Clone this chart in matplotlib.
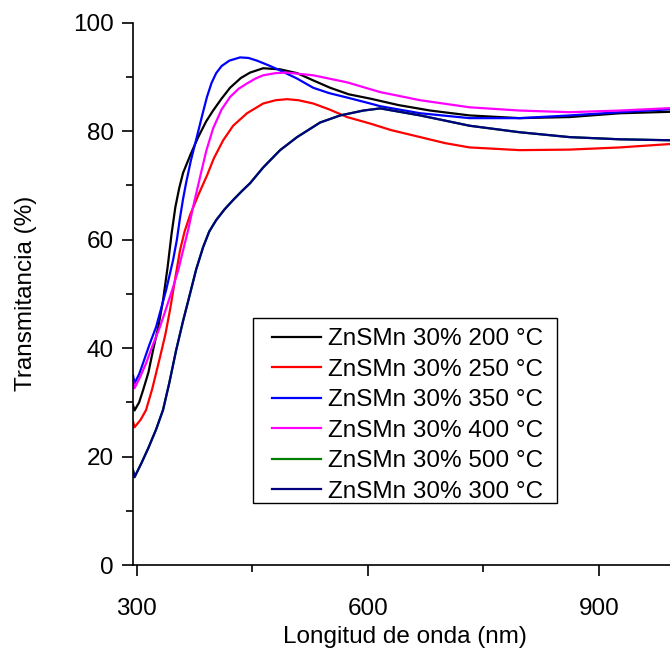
import matplotlib
matplotlib.use("Agg")
import matplotlib.pyplot as plt
from matplotlib.patches import Rectangle
from matplotlib.ticker import MultipleLocator

plt.rcParams['font.family'] = ['Liberation Sans', 'DejaVu Sans']

# Data (wavelength nm, transmittance %)
wl_200 = [295, 297, 303, 308, 315, 321, 328, 334, 340, 345, 350, 355, 360, 370, 380, 390, 399,
          410, 421, 435, 447, 464, 486, 508, 530, 551, 575, 603, 640, 681, 732, 797, 862, 927, 1000]
t_200 = [29.5, 28.5, 30, 32.2, 35.5, 39.6, 44, 48.8, 55, 61, 66, 69.5, 72.3, 75.8, 79, 81.8, 83.8,
         86, 88, 89.8, 90.8, 91.6, 91.4, 90.7, 89.3, 88, 86.8, 86, 84.8, 83.8, 82.9, 82.4, 82.6, 83.3, 83.6]

wl_250 = [295, 297, 305, 312, 320, 330, 337, 343, 350, 356, 362, 369, 380, 391, 400, 412, 425,
          443, 464, 480, 495, 510, 529, 550, 573, 603, 630, 668, 700, 732, 797, 862, 927, 1000]
t_250 = [26.5, 25.4, 26.8, 28.6, 32.5, 38.3, 42.5, 47, 53, 58, 61.5, 64.5, 68.3, 71.8, 75, 78.3, 81,
         83.3, 85.1, 85.7, 85.9, 85.7, 85.1, 84, 82.6, 81.4, 80.2, 78.9, 77.8, 77, 76.5, 76.6, 77, 77.7]

wl_350 = [295, 297, 303, 308, 316, 325, 338, 347, 352, 356, 360, 364, 370, 378, 385, 391, 397,
          403, 410, 420, 434, 445, 456, 470, 486, 508, 529, 550, 573, 603, 616, 668, 732, 797,
          862, 927, 1000]
t_350 = [35, 33.5, 35.2, 37.2, 40.5, 43.9, 50.7, 56.2, 60, 64, 67.5, 70.5, 74.5, 79, 83, 86.3, 88.9,
         90.7, 92, 93, 93.6, 93.5, 93, 92.2, 91.2, 89.7, 88, 87, 86.2, 85.1, 84.6, 83.3, 82.4, 82.4,
         82.9, 83.5, 84.1]

wl_400 = [295, 297, 304, 312, 320, 330, 338, 347, 354, 360, 367, 373, 382, 390, 399, 410, 421,
          432, 443, 454, 464, 480, 495, 529, 573, 616, 668, 732, 797, 862, 927, 1000]
t_400 = [34, 32.6, 34.6, 37.2, 40.3, 43.9, 47.3, 51.2, 54.5, 58, 62, 66, 71.5, 76.3, 80.5, 84, 86.3,
         87.8, 88.8, 89.7, 90.3, 90.7, 90.8, 90.3, 89, 87.2, 85.7, 84.4, 83.8, 83.5, 83.8, 84.3]

# 500 °C curve lies hidden under the 300 °C one in the reference
wl_500 = [295, 297, 306, 315, 325, 334, 342, 351, 360, 369, 377, 386, 394, 403, 414, 425, 436,
          447, 464, 486, 508, 538, 564, 594, 616, 668, 732, 797, 862, 927, 1000]
t_500 = [17.5, 16.2, 18.8, 21.6, 25, 28.6, 33.5, 39.6, 45, 50, 54.5, 58.6, 61.5, 63.6, 65.6, 67.3,
         68.9, 70.4, 73.3, 76.5, 78.9, 81.6, 82.9, 83.8, 84.2, 82.9, 81, 79.8, 78.9, 78.5, 78.3]

wl_300 = [295, 297, 306, 315, 325, 334, 342, 351, 360, 369, 377, 386, 394, 403, 414, 425, 436,
          447, 464, 486, 508, 538, 564, 594, 616, 668, 732, 797, 862, 927, 1000]
t_300 = [17.5, 16.2, 18.8, 21.6, 25, 28.6, 33.5, 39.6, 45, 50, 54.5, 58.6, 61.5, 63.6, 65.6, 67.3,
         68.9, 70.4, 73.3, 76.5, 78.9, 81.6, 82.9, 83.8, 84.2, 82.9, 81, 79.8, 78.9, 78.5, 78.3]

series = [
    ("ZnSMn 30% 200 °C", wl_200, t_200, "black"),
    ("ZnSMn 30% 250 °C", wl_250, t_250, "#ff0000"),
    ("ZnSMn 30% 350 °C", wl_350, t_350, "#0000ff"),
    ("ZnSMn 30% 400 °C", wl_400, t_400, "#ff00ff"),
    ("ZnSMn 30% 500 °C", wl_500, t_500, "#008000"),
    ("ZnSMn 30% 300 °C", wl_300, t_300, "#000080"),
]

W, H = 670, 648
fig = plt.figure(figsize=(W / 100, H / 100), dpi=100)
ax = fig.add_axes([133 / W, 83 / H, 543 / W, 542.3 / H])

for label, x, y, c in series:
    ax.plot(x, y, color=c, lw=1.6, label=label)

ax.set_xlim(295, 1000)
ax.set_ylim(0, 100)
ax.xaxis.set_major_locator(MultipleLocator(300))
ax.xaxis.set_minor_locator(MultipleLocator(150))
ax.yaxis.set_major_locator(MultipleLocator(20))
ax.yaxis.set_minor_locator(MultipleLocator(10))
ax.tick_params(which='major', direction='out', length=8, width=1.2, labelsize=17.5)
ax.tick_params(axis='x', which='major', pad=16)
ax.tick_params(axis='y', which='major', pad=6)
ax.tick_params(which='minor', direction='out', length=5, width=1.2)
for s in ['top', 'right']:
    ax.spines[s].set_visible(False)
for s in ['left', 'bottom']:
    ax.spines[s].set_linewidth(1.2)

ax.set_xlabel("Longitud de onda (nm)", fontsize=17.5, labelpad=4)
ax.set_ylabel("Transmitancia (%)", fontsize=17.5, labelpad=26)

# legend frame drawn as a plain box, legend entries placed inside it
box = Rectangle((253 / W, 1 - 503 / H), 304 / W, 185 / H, transform=fig.transFigure,
                facecolor='white', edgecolor='black', lw=1.0, zorder=4, clip_on=False)
ax.add_patch(box)
leg = ax.legend(loc='upper left', bbox_to_anchor=(272 / W, 1 - 328 / H),
                bbox_transform=fig.transFigure, borderaxespad=0, borderpad=0,
                fontsize=17.5, frameon=False, handlelength=2.0, handletextpad=0.3,
                labelspacing=0.35)
leg.set_zorder(5)

fig.savefig("out.png", dpi=100)
